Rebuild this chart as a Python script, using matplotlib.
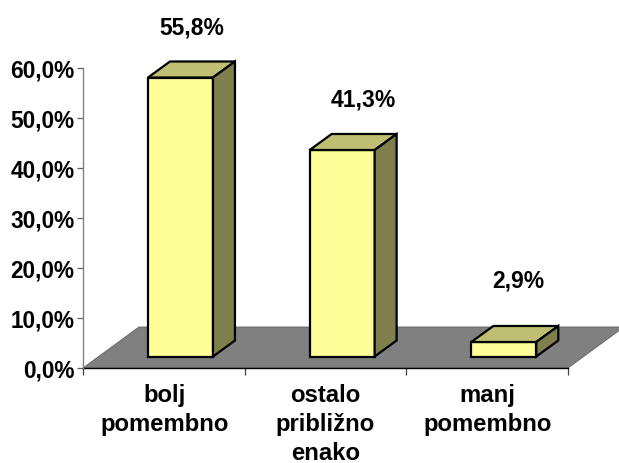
import matplotlib
matplotlib.use('Agg')
import matplotlib.pyplot as plt
from matplotlib.patches import Polygon

plt.rcParams['font.family'] = ['Liberation Sans', 'DejaVu Sans']

categories = ['bolj\npomembno', 'ostalo\npribližno\nenako', 'manj\npomembno']
values = [55.8, 41.3, 2.9]
value_labels = ['55,8%', '41,3%', '2,9%']
y_ticks = [0, 10, 20, 30, 40, 50, 60]
y_tick_labels = ['0,0%', '10,0%', '20,0%', '30,0%', '40,0%', '50,0%', '60,0%']
label_gaps = [12.4, 12.5, 14.7]
label_shifts = [0.0, 0.06, 0.02]

# oblique 3D look, in data units (1 category = 161.7 px, 1% = 5 px)
floor_dx, floor_dy = 0.346, 8.2
depth_dx, depth_dy = 0.136, 3.2
bar_offset = 0.402
bar_width = 0.402
bar_base = 2.3

fig = plt.figure(figsize=(6.19, 4.64), dpi=100)
ax = fig.add_axes([83 / 619, 1 - 369 / 464, 485 / 619, 300 / 464])
ax.set_xlim(0, 3)
ax.set_ylim(0, 60)

# floor
ax.add_patch(Polygon([(0, 0), (3, 0), (3 + floor_dx, floor_dy), (floor_dx, floor_dy)],
                     facecolor='#808080', edgecolor='#606060', linewidth=0.6,
                     clip_on=False, zorder=1))

# bars: front, top and side faces
for i, v in enumerate(values):
    x0 = i + bar_offset
    x1 = x0 + bar_width
    top = bar_base + v
    faces = [
        ([(x0, bar_base), (x1, bar_base), (x1, top), (x0, top)], '#FFFF99'),
        ([(x0, top), (x1, top), (x1 + depth_dx, top + depth_dy), (x0 + depth_dx, top + depth_dy)], '#BFBF73'),
        ([(x1, bar_base), (x1 + depth_dx, bar_base + depth_dy), (x1 + depth_dx, top + depth_dy), (x1, top)], '#7F7F4D'),
    ]
    for pts, col in faces:
        ax.add_patch(Polygon(pts, facecolor=col, edgecolor='black', linewidth=1.6,
                             joinstyle='miter', clip_on=False, zorder=3))
    ax.text(x0 + bar_width / 2 + depth_dx / 2 + label_shifts[i], v + label_gaps[i], value_labels[i],
            ha='center', va='center', fontsize=16.5, fontweight='bold', clip_on=False)

ax.spines['top'].set_visible(False)
ax.spines['right'].set_visible(False)
ax.spines['left'].set_color('#808080')
ax.spines['left'].set_linewidth(1.0)
ax.spines['bottom'].set_color('black')
ax.spines['bottom'].set_linewidth(1.0)
ax.spines['bottom'].set_zorder(2)

ax.set_yticks(y_ticks)
ax.set_yticklabels(y_tick_labels, fontsize=16.3, fontweight='bold')
ax.tick_params(axis='y', length=4, width=0.9, color='#606060', pad=2)

ax.set_xticks([0, 1, 2, 3])
ax.set_xticklabels([])
ax.tick_params(axis='x', length=5, width=0.9, color='#404040')
ax.set_xticks([0.503, 1.5, 2.5], minor=True)
ax.set_xticklabels(categories, minor=True, fontsize=17.2, fontweight='bold', linespacing=1.33)
ax.tick_params(axis='x', which='minor', length=0, pad=11)

fig.savefig('out.png', dpi=100)
